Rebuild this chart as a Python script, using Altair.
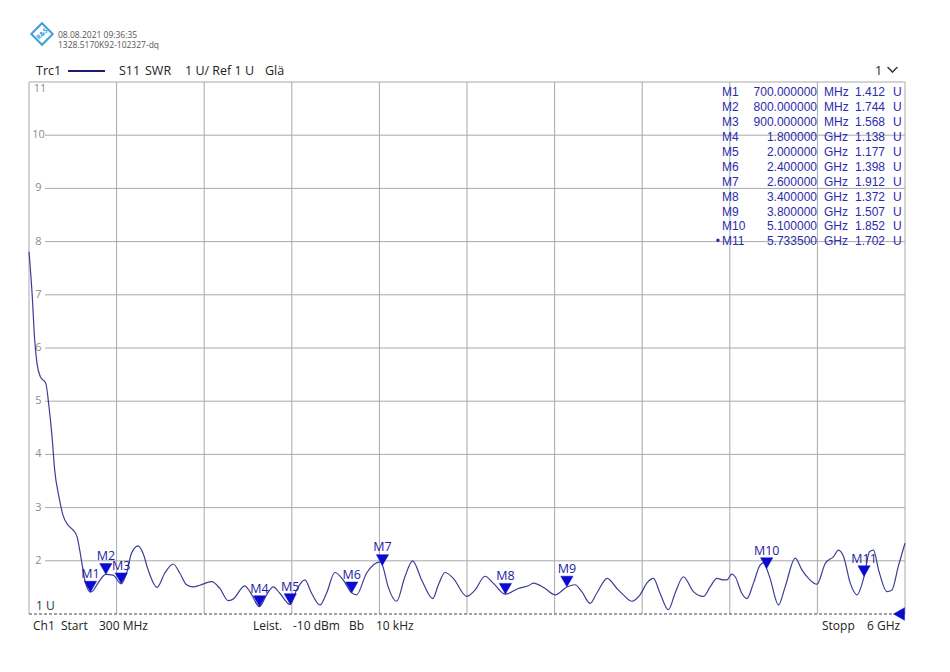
import altair as alt
import pandas as pd

# ---------------- data ----------------
freq_mhz = [300, 320, 337, 352, 374, 409, 430, 450, 467, 495, 521, 554, 586, 613, 630, 648, 663,
            700, 717, 749, 800, 847, 900, 934, 967, 1010, 1042, 1075, 1133, 1184, 1238, 1281,
            1325, 1368, 1411, 1488, 1542, 1596, 1628, 1704, 1737, 1800, 1846, 1889, 1932, 2000,
            2041, 2095, 2139, 2193, 2236, 2290, 2344, 2400, 2430, 2497, 2585, 2600, 2637, 2692,
            2746, 2796, 2855, 2927, 2964, 3007, 3061, 3148, 3202, 3267, 3321, 3400, 3484, 3549,
            3582, 3658, 3723, 3800, 3853, 3897, 3951, 3994, 4063, 4125, 4168, 4222, 4276, 4320,
            4363, 4406, 4460, 4504, 4558, 4623, 4688, 4732, 4776, 4819, 4841, 4873, 4895, 4938,
            4971, 5014, 5057, 5080, 5100, 5122, 5177, 5220, 5286, 5329, 5372, 5427, 5481, 5535,
            5568, 5600, 5644, 5688, 5733.5, 5769, 5795, 5828, 5883, 5915, 5956, 6000]
swr = [7.81, 7.03, 6.15, 5.71, 5.46, 5.34, 4.90, 4.33, 3.71, 3.20, 2.86, 2.67, 2.58, 2.45, 2.20, 1.89, 1.64,
       1.412, 1.44, 1.58, 1.744, 1.73, 1.568, 1.76, 2.14, 2.28, 2.14, 1.83, 1.50, 1.77, 1.94, 1.77,
       1.55, 1.51, 1.54, 1.61, 1.48, 1.25, 1.28, 1.53, 1.42, 1.138, 1.36, 1.51, 1.39, 1.177,
       1.45, 1.64, 1.39, 1.17, 1.39, 1.78, 1.64, 1.398, 1.36, 1.77, 1.98, 1.912, 1.51, 1.24,
       1.70, 2.00, 1.64, 1.29, 1.55, 1.78, 1.67, 1.33, 1.45, 1.71, 1.58, 1.372, 1.48, 1.53,
       1.58, 1.48, 1.36, 1.507, 1.55, 1.42, 1.20, 1.39, 1.67, 1.48, 1.36, 1.24, 1.36, 1.58,
       1.67, 1.39, 1.08, 1.39, 1.70, 1.42, 1.33, 1.51, 1.67, 1.64, 1.64, 1.75, 1.70, 1.39,
       1.29, 1.58, 1.92, 1.96, 1.852, 1.67, 1.17, 1.51, 2.05, 1.83, 1.67, 1.56, 1.95, 2.08,
       2.20, 2.08, 1.58, 1.36, 1.702, 2.17, 2.20, 1.83, 1.42, 1.45, 1.89, 2.33]
assert len(freq_mhz) == len(swr)

marker_names = ["M1", "M2", "M3", "M4", "M5", "M6", "M7", "M8", "M9", "M10", "M11"]
marker_freq_mhz = [700, 800, 900, 1800, 2000, 2400, 2600, 3400, 3800, 5100, 5733.5]
marker_swr = [1.412, 1.744, 1.568, 1.138, 1.177, 1.398, 1.912, 1.372, 1.507, 1.852, 1.702]
active_marker = "M11"

x_grid_mhz = [300, 870, 1440, 2010, 2580, 3150, 3720, 4290, 4860, 5430, 6000]
y_grid = [2, 3, 4, 5, 6, 7, 8, 9, 10]
y_labels = ["2", "3", "4", "5", "6", "7", "8", "9", "10"]
x_start_mhz = 300
x_stop_mhz = 6000
y_min, y_max = 1, 11
ref_level = 1

# ---------------- layout ----------------
W, H = 876, 532
FONT = "Open Sans"
TFONT = "Liberation Sans"
GRID = "#a9a9a9"
TRACE = "#3d3d96"
MBLUE = "#0b0bd0"
TBLUE = "#2b2bab"

xs = alt.Scale(domain=[x_start_mhz, x_stop_mhz], nice=False, zero=False)
ys = alt.Scale(domain=[y_min, y_max], nice=False, zero=False)

dummy = pd.DataFrame({"d": [0]})


def txt(s, x, y, size=12, color="#222222", align="left", baseline="middle", font=FONT, **kw):
    return alt.Chart(dummy).mark_text(
        text=s, align=align, baseline=baseline, fontSize=size, color=color, font=font, **kw
    ).encode(x=alt.value(x), y=alt.value(y))


def seg(x1, y1, x2, y2, color="#333333", width=1.5):
    return alt.Chart(dummy).mark_rule(color=color, strokeWidth=width, strokeCap="round").encode(
        x=alt.value(x1), y=alt.value(y1), x2=alt.value(x2), y2=alt.value(y2))


trace_df = pd.DataFrame({"f": freq_mhz, "swr": swr})
mk_df = pd.DataFrame({"name": marker_names, "f": marker_freq_mhz, "swr": marker_swr})
xg_df = pd.DataFrame({"f": x_grid_mhz})
yg_df = pd.DataFrame({"v": y_grid, "lab": y_labels})

vgrid = alt.Chart(xg_df).mark_rule(color=GRID, strokeWidth=1).encode(
    x=alt.X("f:Q", scale=xs, axis=None))
hgrid = alt.Chart(yg_df).mark_rule(color=GRID, strokeWidth=1).encode(
    y=alt.Y("v:Q", scale=ys, axis=None), x=alt.value(16), x2=alt.value(W))
top_border = alt.Chart(pd.DataFrame({"v": [y_max]})).mark_rule(color=GRID, strokeWidth=1).encode(
    y=alt.Y("v:Q", scale=ys, axis=None), x=alt.value(0), x2=alt.value(W))
ref_line = alt.Chart(pd.DataFrame({"v": [ref_level]})).mark_rule(
    color="#444444", strokeWidth=1, strokeDash=[3, 2]).encode(
    y=alt.Y("v:Q", scale=ys, axis=None), x=alt.value(0), x2=alt.value(W))

ylab = alt.Chart(yg_df).mark_text(align="center", baseline="middle", fontSize=11,
                                  color="#8c8c8c", font=FONT).encode(
    y=alt.Y("v:Q", scale=ys, axis=None), x=alt.value(9.5), text="lab:N")

trace = alt.Chart(trace_df).mark_line(color=TRACE, strokeWidth=1.2, interpolate="monotone").encode(
    x=alt.X("f:Q", scale=xs, axis=None), y=alt.Y("swr:Q", scale=ys, axis=None))

mk_tri = alt.Chart(mk_df).mark_point(shape="triangle-down", filled=True, size=150, opacity=1,
                                     fill=MBLUE, stroke=MBLUE, strokeWidth=0.5,
                                     fillOpacity=1, yOffset=-5.5).encode(
    x=alt.X("f:Q", scale=xs, axis=None), y=alt.Y("swr:Q", scale=ys, axis=None))
mk_lab = alt.Chart(mk_df).mark_text(fontSize=12.5, color="#1c1ca0", font=FONT, yOffset=-18,
                                    baseline="middle", align="center").encode(
    x=alt.X("f:Q", scale=xs, axis=None), y=alt.Y("swr:Q", scale=ys, axis=None), text="name:N")

ref_tri = alt.Chart(pd.DataFrame({"f": [x_stop_mhz], "v": [ref_level]})).mark_point(
    shape="triangle-left", filled=True, size=160, opacity=1, fill=MBLUE, stroke=MBLUE,
    strokeWidth=0.5, fillOpacity=1, xOffset=-6).encode(
    x=alt.X("f:Q", scale=xs, axis=None), y=alt.Y("v:Q", scale=ys, axis=None))

# marker table (one text per row)
tbl_df = pd.DataFrame({
    "row": list(range(len(marker_names))),
    "name": marker_names,
    "freq": [f"{f:.6f}" if f < 1000 else f"{f / 1000:.6f}" for f in marker_freq_mhz],
    "unit": ["MHz" if f < 1000 else "GHz" for f in marker_freq_mhz],
    "val": [f"{v:.3f}" for v in marker_swr],
    "u": ["U"] * len(marker_names),
    "dot": ["•" if n == active_marker else "" for n in marker_names],
})
row_scale = alt.Scale(domain=[0, 10], range=[10.3, 159.3])


def col(field, x, align):
    return alt.Chart(tbl_df).mark_text(fontSize=12, color=TBLUE, font=TFONT, align=align,
                                       baseline="middle").encode(
        y=alt.Y("row:Q", scale=row_scale, axis=None), x=alt.value(x), text=f"{field}:N")


table = [
    col("dot", 691, "right"),
    col("name", 693, "left"),
    col("freq", 788, "right"),
    col("unit", 795, "left"),
    col("val", 856, "right"),
    col("u", 864, "left"),
]

# header
logo = alt.Chart(dummy).mark_point(shape="square", angle=45, size=230, filled=False,
                                   color="#3f9fdc", strokeWidth=2, opacity=1).encode(
    x=alt.value(13), y=alt.value(-48))
logo_txt = txt("R&S", 13, -48, size=6.5, color="#3f9fdc", align="center", angle=315,
               fontWeight="bold")
header = [
    logo, logo_txt,
    txt("08.08.2021 09:36:35", 29, -47, size=8.5, color="#555555"),
    txt("1328.5170K92-102327-dq", 29, -37, size=8.5, color="#555555"),
    txt("Trc1", 7, -11, size=12.5, color="#222222"),
    alt.Chart(dummy).mark_rule(color="#1c1c70", strokeWidth=2).encode(
        x=alt.value(39), x2=alt.value(76), y=alt.value(-11)),
    txt("S11", 90, -11, size=12.5),
    txt("SWR", 116, -11, size=12.5),
    txt("1 U/ Ref 1 U", 156, -11, size=12.5),
    txt("Glä", 236, -11, size=12.5),
    txt("1", 849.5, -11.5, size=12.5, align="center"),
    seg(859, -14.5, 863.5, -10),
    seg(863.5, -10, 868, -14.5),
]

# side labels
side = [
    txt("11", 11, 7, size=11, color="#8c8c8c", align="center"),
    txt("1 U", 7, 524, size=12, color="#333333"),
]

# footer
FY = 543.5
footer = [
    txt("Ch1", 4, FY), txt("Start", 32, FY), txt("300 MHz", 70, FY),
    txt("Leist.", 224, FY), txt("-10 dBm", 264, FY), txt("Bb", 320, FY), txt("10 kHz", 347, FY),
    txt("Stopp", 793, FY), txt("6 GHz", 838, FY),
]

chart = alt.layer(
    vgrid, hgrid, top_border, ylab, *side, ref_line, trace, mk_tri, mk_lab, ref_tri,
    *table, *header, *footer
).resolve_scale(y="independent").properties(
    width=W, height=H,
    padding={"left": 21, "top": 74, "right": 37, "bottom": 50},
    autosize=alt.AutoSizeParams(type="none"),
    background="white",
).configure_view(stroke=None)

chart.save("out.html", embed_options={"renderer": "svg", "actions": False})
